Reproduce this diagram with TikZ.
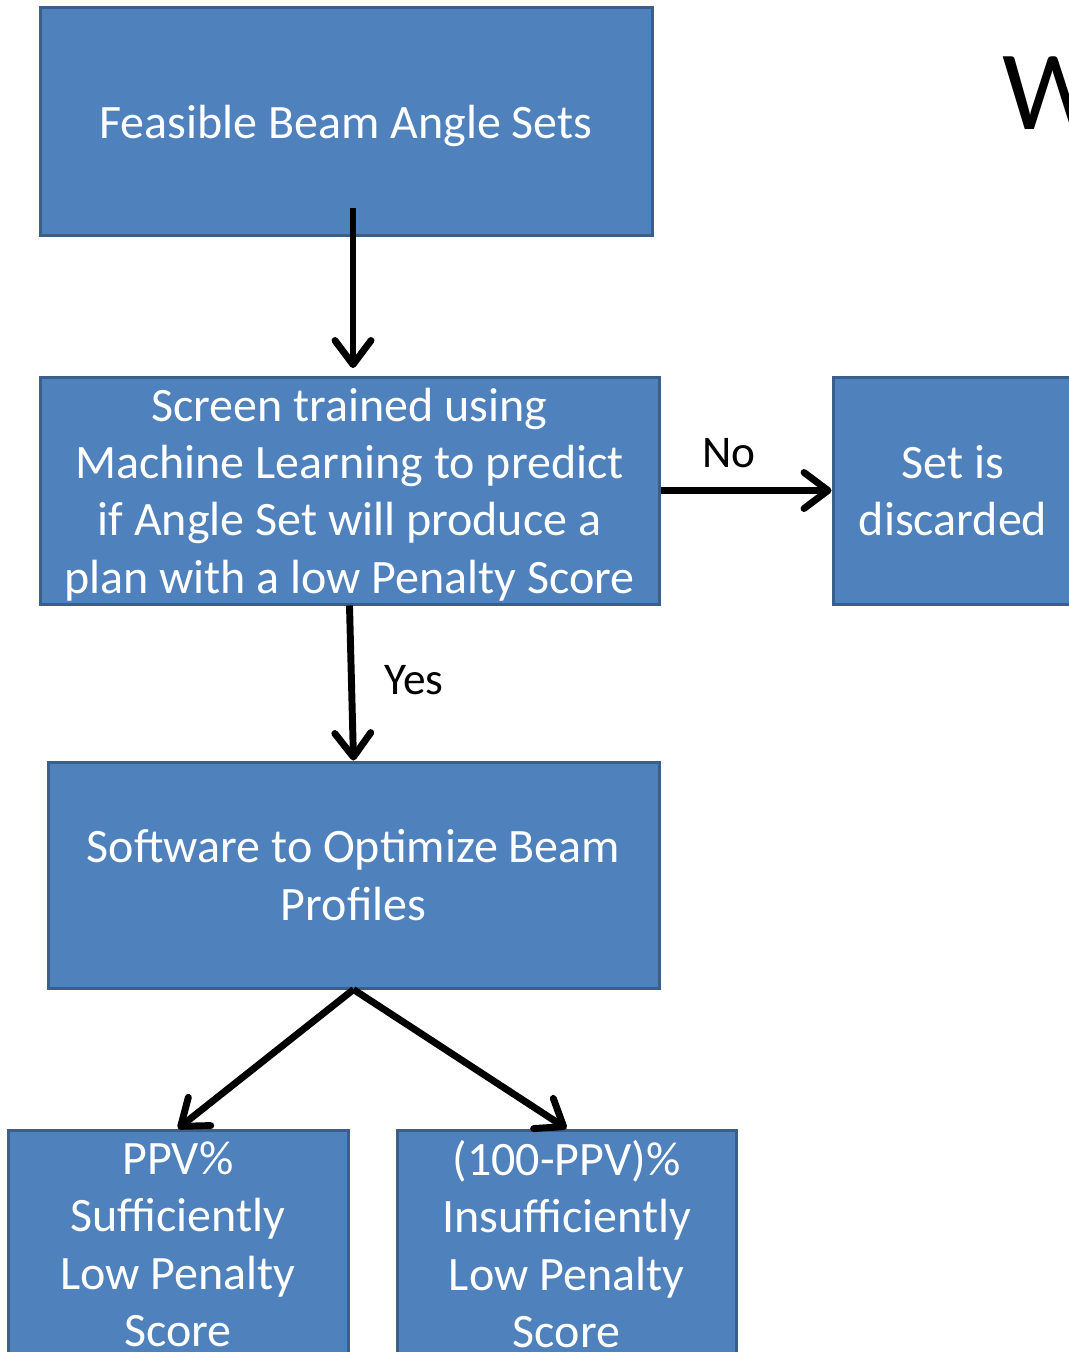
\documentclass[tikz,border=0pt]{standalone}
\usepackage{fontspec}
\setmainfont{Carlito}
\usetikzlibrary{arrows.meta}
\definecolor{boxfill}{HTML}{4F81BD}
\definecolor{boxline}{HTML}{3A5F8B}
\begin{document}
\begin{tikzpicture}[x=0.75pt,y=-0.75pt,
  flowbox/.style={draw=boxline,fill=boxfill,line width=2.25pt,text=white,
    align=center,inner sep=0pt,text depth=0pt,font=\fontsize{36pt}{43pt}\selectfont},
  conn/.style={line width=5.2pt,draw=black,
    -{Straight Barb[length=18pt,width=27pt,line width=5.2pt,line cap=round,line join=round]}},
  lbl/.style={font=\fontsize{34pt}{41pt}\selectfont,inner sep=0pt}]
\useasboundingbox (0,0) rectangle (1069,1352);
\clip (0,0) rectangle (1069,1352);
\node[flowbox,minimum width=612*0.75pt,minimum height=227*0.75pt] (b1) at (346,121.5) {Feasible Beam Angle Sets};
\node[flowbox,minimum width=619*0.75pt,minimum height=227*0.75pt] (b2) at (349.5,490.5)
  {Screen trained using\\Machine Learning to predict\\if Angle Set will produce a\\plan with a low Penalty Score};
\node[flowbox,minimum width=240*0.75pt,minimum height=227*0.75pt] (b3) at (953,490.5) {Set is\\discarded};
\node[flowbox,minimum width=611*0.75pt,minimum height=226*0.75pt] (b4) at (353.5,875) {Software to Optimize Beam\\Profiles};
\node[flowbox,minimum width=340*0.75pt,minimum height=228*0.75pt] (b5) at (178,1244) {PPV\%\\Sufficiently\\Low Penalty\\Score};
\node[flowbox,minimum width=339*0.75pt,minimum height=228*0.75pt] (b6) at (566.5,1244) {(100-PPV)\%\\Insufficiently\\Low Penalty\\Score};
\node[font=\fontsize{85pt}{100pt}\selectfont,inner sep=0pt,anchor=base west] (w) at (1002,130) {W};
\coordinate (a1s) at (353,208);
\coordinate (a1e) at (353,368);
\draw[conn] (a1s) -- (a1e);
\draw[conn] (b2.east) -- (b3.west);
\draw[conn] (b2.south) -- (b4.north);
\draw[conn] (b4.south) -- (b5.north);
\draw[conn] (b4.south) -- (b6.north);
\node[lbl] (no) at (729,453) {No};
\node[lbl] (yes) at (414,680) {Yes};
\end{tikzpicture}
\end{document}
